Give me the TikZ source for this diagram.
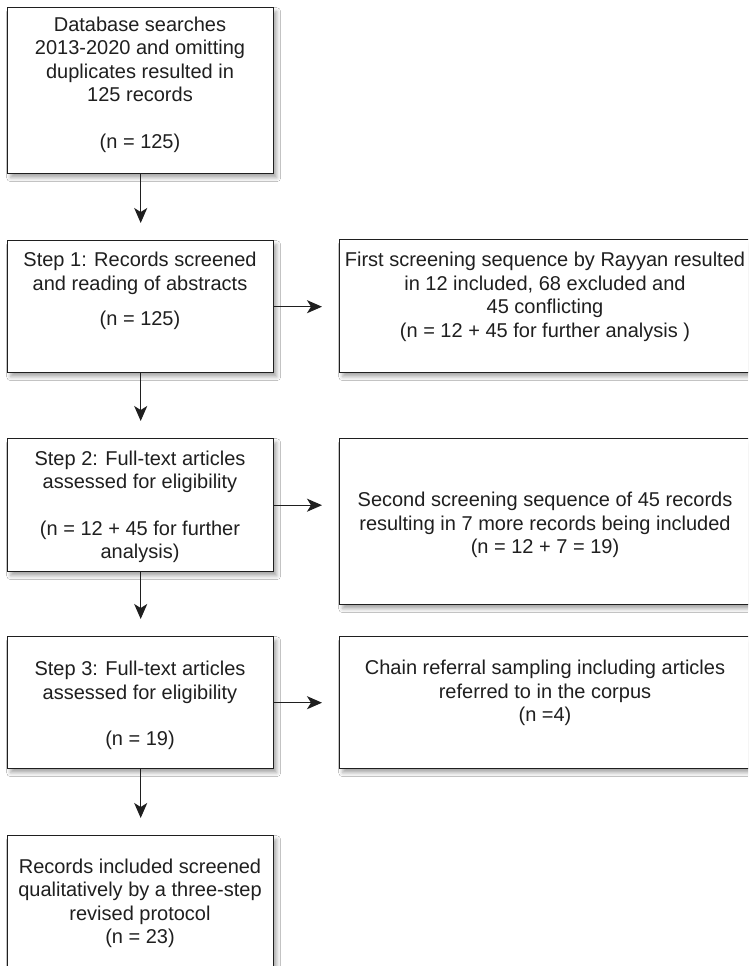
\documentclass[tikz,border=0pt]{standalone}
\usepackage{fontspec}
\setmainfont{Liberation Sans}
\usetikzlibrary{arrows.meta,shadows.blur}
\begin{document}
\begin{tikzpicture}[x=1pt,y=-1pt,
  box/.style={draw=black!88, line width=1.4pt, fill=white, anchor=north west, inner sep=0pt,
    blur shadow={shadow xshift=3pt, shadow yshift=-4pt, shadow blur radius=4pt, shadow opacity=35}},
  txt/.style={align=center, inner sep=0pt, text=black!88, font=\fontsize{20}{23.5}\selectfont},
  arr/.style={draw=black!88, line width=1.2pt, -{Stealth[length=15pt,width=13pt,inset=4pt]}}]
\clip (0,0) rectangle (748,966);
\fill[white] (0,0) rectangle (748,966);
% left column
\node[box, minimum width=266pt, minimum height=166pt] (b0) at (7,7) {};
\node[box, minimum width=266pt, minimum height=132pt] (s1) at (7,240) {};
\node[box, minimum width=266pt, minimum height=133pt] (s2) at (7,438) {};
\node[box, minimum width=266pt, minimum height=132pt] (s3) at (7,636) {};
\node[box, minimum width=266pt, minimum height=150pt] (b5) at (7,835) {};
% right column
\node[box, minimum width=412pt, minimum height=133pt] (r1) at (339,239) {};
\node[box, minimum width=412pt, minimum height=166pt] (r2) at (339,438) {};
\node[box, minimum width=412pt, minimum height=132pt] (r3) at (339,636) {};
% texts
\node[txt] (t0) at (140,85) {Database searches\\2013-2020 and omitting\\duplicates resulted in\\125 records\\[23.5pt](n = 125)};
\node[txt] (t1) at (140,291) {Step 1: Records screened\\and reading of abstracts\\[12pt](n = 125)};
\node[txt] (t2) at (140,507) {Step 2: Full-text articles\\assessed for eligibility\\[23pt](n = 12 + 45 for further\\analysis)};
\node[txt] (t3) at (140,705.5) {Step 3: Full-text articles\\assessed for eligibility\\[23pt](n = 19)};
\node[txt] (t5) at (140,903.5) {Records included screened\\qualitatively by a three-step\\revised protocol\\(n = 23)};
\node[txt] (u1) at (545,297) {First screening sequence by Rayyan resulted\\in 12 included, 68 excluded and\\45 conflicting\\(n = 12 + 45 for further analysis )};
\node[txt] (u2) at (545,525) {Second screening sequence of 45 records\\resulting in 7 more records being included\\(n = 12 + 7 = 19)};
\node[txt] (u3) at (545,693) {Chain referral sampling including articles\\referred to in the corpus\\(n =4)};
% vertical arrows
\draw[arr, shorten >=17pt] (b0.south) -- (s1.north);
\draw[arr, shorten >=17pt] (s1.south) -- (s2.north);
\draw[arr, shorten >=17pt] (s2.south) -- (s3.north);
\draw[arr, shorten >=17pt] (s3.south) -- (b5.north);
% horizontal arrows
\draw[arr, shorten >=17pt] (s1.east) -- (s1.east -| r1.west);
\draw[arr, shorten >=17pt] (s2.east) -- (s2.east -| r2.west);
\draw[arr, shorten >=17pt] (s3.east) -- (s3.east -| r3.west);
\end{tikzpicture}
\end{document}
